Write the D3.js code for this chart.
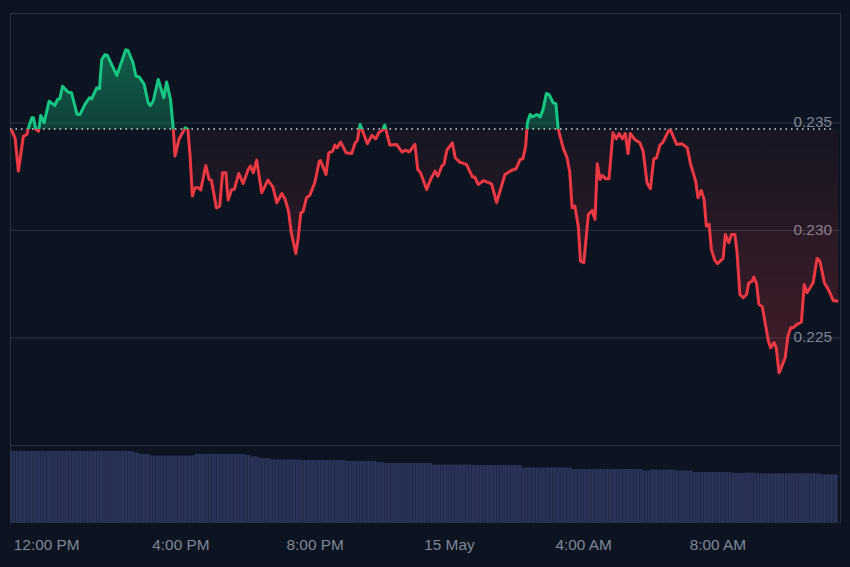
<!DOCTYPE html>
<html><head><meta charset="utf-8">
<script src="https://cdn.jsdelivr.net/npm/d3@7/dist/d3.min.js"></script>
<style>html,body{margin:0;padding:0;background:#0d1421;overflow:hidden}svg{display:block}</style>
</head><body><svg id="c" width="850" height="567"></svg>
<script>
// minutes after 12:00 PM
const minutes = [-64,-57,-51,-42,-36,-32,-27,-24,-20,-15,-11,-5,4,14,19,23,28,38,44,54,59,68,76,80,89,94,98,104,108,125,141,145,154,159,165,174,181,185,190,199,209,214,221,226,229,236,247,252,256,260,265,271,275,284,290,294,303,309,314,320,324,330,335,343,351,360,364,369,375,384,395,404,411,
420,426,432,437,445,449,454,458,464,470,479,487,489,499,504,511,515,519,525,535,545,551,555,560,573,581,588,594,600,604,613,625,635,640,648,658,663,668,679,686,694,699,706,710,715,725,730,738,750,761,765,771,781,795,804,819,831,839,846,851,856,859,864,868,876,882,887,893,898,905,910,914,
923,930,935,939,944,950,954,960,968,975,980,984,989,993,999,1005,1012,1018,1023,1029,1034,1039,1043,1051,1060,1066,1073,1079,1085,1090,1096,1101,1112,1115,1126,1135,1145,1151,1160,1164,1170,1175,1179,1184,1188,1194,1199,1209,1213,1219,1224,1230,1234,1239,1245,1251,1255,1260,1264,1269,1273,1279,1290,1294,1300,1304,1309,1313,1320,1325,1330,1334,1341,1349,1354,1359,1370,1377,1382,1390,1398,1406,1415];
const prices = [.23468,.23429,.23274,.23437,.23444,.23483,.23522,.23522,.23468,.23460,.23533,.23499,.23599,.23579,.23607,.23610,.23669,.23641,.23638,.23537,.23537,.23584,.23615,.23610,.23661,.23657,.23793,.23816,.23812,.23719,.23838,.23835,.23778,.23716,.23712,.23677,.23592,.23579,.23599,.23700,.23615,.23688,.23607,.23468,.23344,.23421,.23475,.23468,.23344,.23158,.23196,.23196,.23186,.23300,.23235,.23232,.23103,.23111,.23266,.23266,.23139,.23186,.23189,.23263,.23216,.23282,.23297,.23266,.23325,.23173,.23232,.23201,.23127,
.23170,.23142,.23088,.22987,.22891,.22956,.23080,.23085,.23150,.23161,.23220,.23320,.23323,.23258,.23359,.23367,.23395,.23382,.23409,.23359,.23356,.23405,.23416,.23491,.23401,.23440,.23424,.23455,.23464,.23488,.23395,.23398,.23362,.23371,.23364,.23398,.23281,.23266,.23188,.23235,.23274,.23250,.23297,.23305,.23371,.23405,.23336,.23316,.23305,.23246,.23246,.23212,.23230,.23215,.23127,.23258,.23278,.23285,.23328,.23331,.23390,.23498,.23537,.23526,.23537,.23526,.23560,.23635,.23630,.23592,.23588,.23471,
.23382,.23336,.23266,.23103,.23111,.23018,.22855,.22848,.23072,.23091,.23049,.23308,.23235,.23254,.23238,.23238,.23452,.23424,.23449,.23424,.23449,.23356,.23449,.23421,.23406,.23367,.23219,.23192,.23331,.23336,.23395,.23406,.23464,.23464,.23398,.23401,.23382,.23305,.23227,.23150,.23184,.23142,.23018,.23026,.22910,.22860,.22844,.22868,.22979,.22941,.22979,.22979,.22894,.22700,.22685,.22700,.22755,.22759,.22781,.22747,.22654,.22643,.22483,.22452,.22476,.22452,.22336,.22359,.22406,.22507,.22545,.22545,.22561,.22572,.22747,.22708,.22755,.22868,.22855,.22755,.22719,.22672,.22669];
const basePrice = 0.23472;
// volume runs: each 5-minute bar holds the level
const volStart = [-66,154,161,184,261,354,363,377,395,452,533,586,604,685,756,849,935,1060,1078,1123,1153,1221,1248,1260,1382];
const volLevel = [71,69.5,68,66.5,68,67,65.5,64,62.5,62,61,60,59,57.5,57,54.5,53,51.5,52.5,51.5,50,49,49.5,48.7,47.7];
const xTickValues = [0,240,480,720,960,1200];
const xTickLabels = ["12:00 PM","4:00 PM","8:00 PM","15 May","4:00 AM","8:00 AM"];
const yTicks = [0.225,0.23,0.235];

const L=10,R=840,T=13,B=445,VB=522;
const svg=d3.select("#c");
const x=d3.scaleLinear().domain([-66,1418]).range([L,R]);
const y=d3.scaleLinear().domain([0.235,0.225]).range([122.5,337.5]);
const yV=d3.scaleLinear().domain([0,76]).range([VB,VB-76]);
const font='"Liberation Sans",Arial,sans-serif', grid="#2a3242", txt="#7f8797";
const pts=minutes.map((m,i)=>({m,p:prices[i]}));
const baseY=y(basePrice)+0.5;

// frame
svg.append("rect").attr("x",L).attr("y",T).attr("width",R-L).attr("height",VB-T).attr("fill","none").attr("stroke",grid).attr("stroke-width",1).attr("shape-rendering","crispEdges");
svg.append("line").attr("x1",L).attr("x2",R).attr("y1",B).attr("y2",B).attr("stroke",grid).attr("shape-rendering","crispEdges");

// y axis with grid
const gy=svg.append("g").attr("transform",`translate(${R},0)`)
 .call(d3.axisLeft(y).tickValues(yTicks).tickSize(R-L).tickFormat(d3.format(".3f")));
gy.select(".domain").remove();
gy.selectAll("line").attr("stroke",grid);
gy.selectAll("text").attr("fill",txt).attr("text-anchor","end").attr("x",-8).attr("dy","0.28em").style("font",`15.4px ${font}`);

// gradients
const defs=svg.append("defs");
const gGreen=defs.append("linearGradient").attr("id","gg").attr("gradientUnits","userSpaceOnUse").attr("x1",0).attr("x2",0).attr("y1",y(0.2384)).attr("y2",baseY);
gGreen.append("stop").attr("offset",0).attr("stop-color","#16c784").attr("stop-opacity",.42);
gGreen.append("stop").attr("offset",1).attr("stop-color","#16c784").attr("stop-opacity",.25);
const gRed=defs.append("linearGradient").attr("id","gr").attr("gradientUnits","userSpaceOnUse").attr("x1",0).attr("x2",0).attr("y1",baseY).attr("y2",y(0.2233));
gRed.append("stop").attr("offset",0).attr("stop-color","#ea3943").attr("stop-opacity",.04);
gRed.append("stop").attr("offset",1).attr("stop-color","#ea3943").attr("stop-opacity",.25);
defs.append("clipPath").attr("id","above").append("rect").attr("x",0).attr("y",0).attr("width",850).attr("height",baseY);
defs.append("clipPath").attr("id","below").append("rect").attr("x",0).attr("y",baseY).attr("width",850).attr("height",567-baseY);

const area=d3.area().x(d=>x(d.m)).y0(baseY).y1(d=>y(d.p));
const line=d3.line().x(d=>x(d.m)).y(d=>y(d.p));
svg.append("path").datum(pts).attr("d",area).attr("fill","url(#gg)").attr("clip-path","url(#above)");
svg.append("path").datum(pts).attr("d",area).attr("fill","url(#gr)").attr("clip-path","url(#below)");

// base dotted line
svg.append("line").attr("x1",L).attr("x2",832).attr("y1",baseY).attr("y2",baseY)
 .attr("stroke","#d5d9e0").attr("stroke-width",1.3).attr("stroke-dasharray","1.5 4");

svg.append("path").datum(pts).attr("d",line).attr("fill","none").attr("stroke","#16c784").attr("stroke-width",3).attr("stroke-linejoin","round").attr("clip-path","url(#above)");
svg.append("path").datum(pts).attr("d",line).attr("fill","none").attr("stroke","#ea3943").attr("stroke-width",3).attr("stroke-linejoin","round").attr("clip-path","url(#below)");

// volume bars
const barMins=d3.range(-66,1410,5);
const bars=barMins.map(m=>({m,v:volLevel[d3.bisectRight(volStart,m)-1]}));
const bw=x(5)-x(0);
svg.append("g").selectAll("rect").data(bars).join("rect")
 .attr("x",d=>x(d.m)).attr("width",bw-0.15)
 .attr("y",d=>yV(d.v)).attr("height",d=>VB-yV(d.v)).attr("fill","#2a3358");

// x axis
const gx=svg.append("g").attr("transform",`translate(-0.7,${VB})`)
 .call(d3.axisBottom(x).tickValues(xTickValues).tickSize(0).tickFormat((d,i)=>xTickLabels[i]));
gx.select(".domain").remove();
gx.selectAll("text").attr("fill",txt).attr("y",28).attr("dy",0).style("font",`15.4px ${font}`).attr("text-anchor","middle");
</script></body></html>
